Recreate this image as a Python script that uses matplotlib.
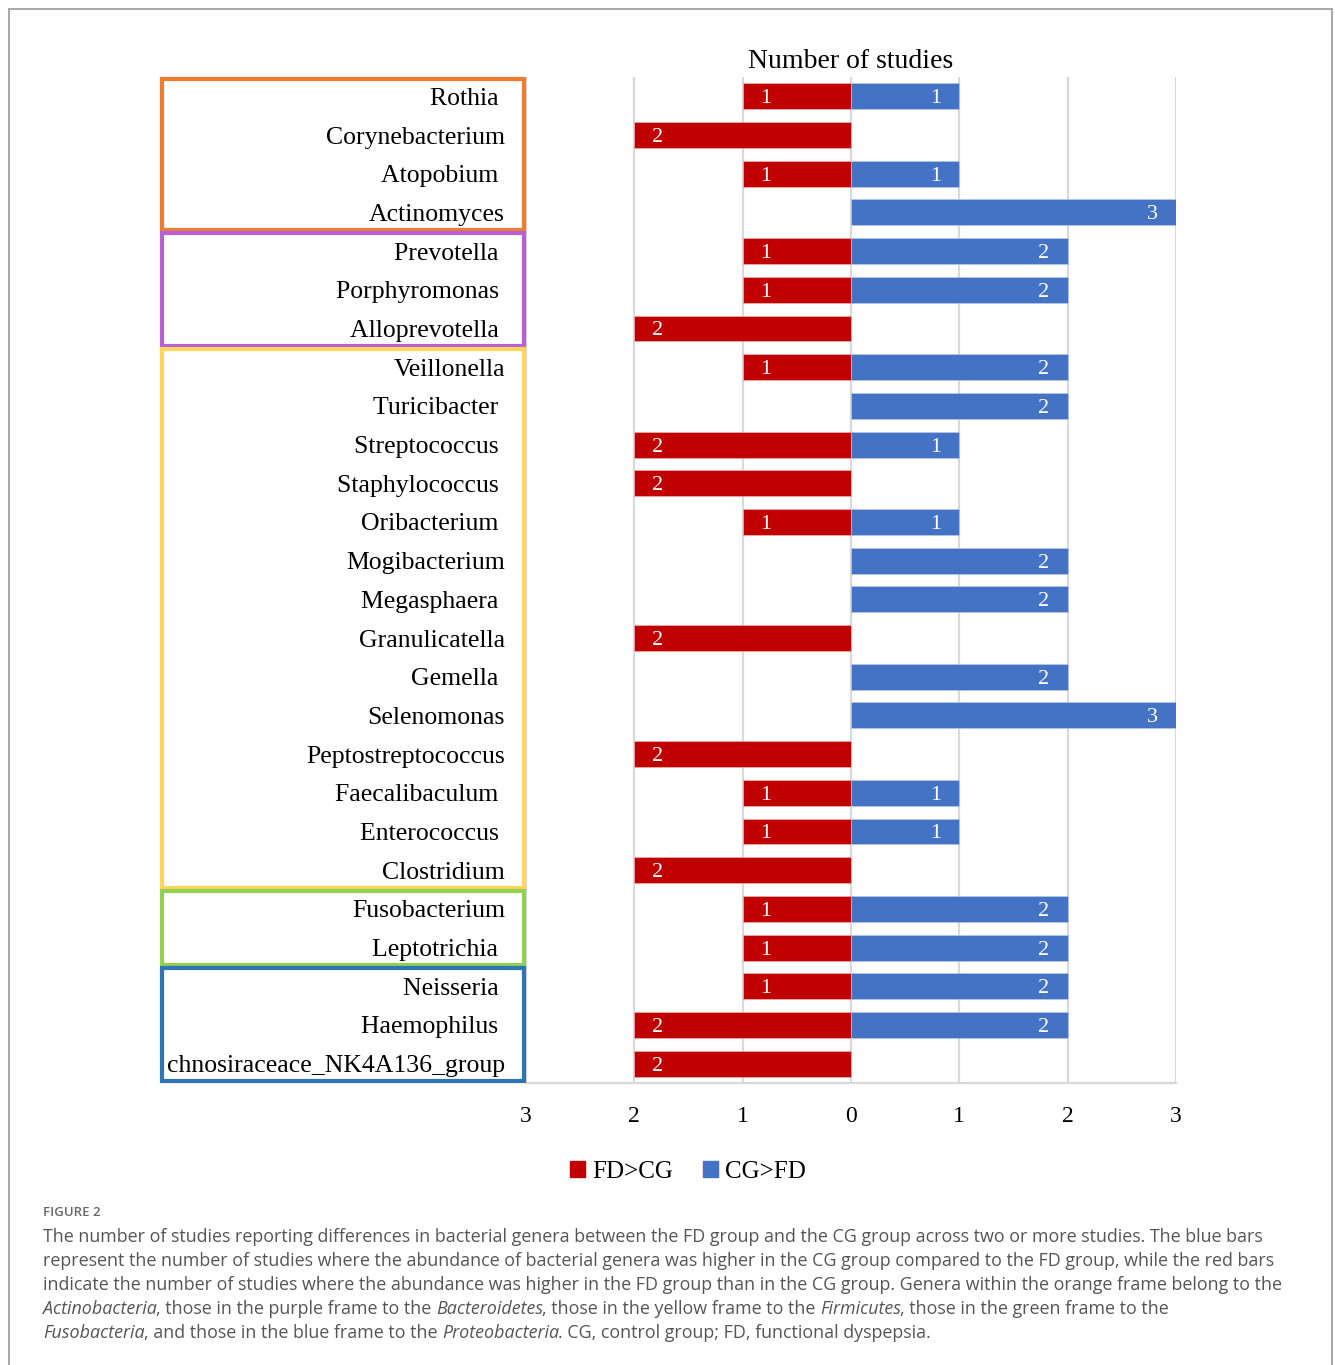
import matplotlib.pyplot as plt
from matplotlib.patches import Patch, Rectangle
from matplotlib.transforms import blended_transform_factory

# genera, top to bottom (trailing spaces as in the source labels)
genera = ["Rothia ", "Corynebacterium", "Atopobium ", "Actinomyces",
          "Prevotella ", "Porphyromonas ", "Alloprevotella ",
          "Veillonella", "Turicibacter ", "Streptococcus ", "Staphylococcus ",
          "Oribacterium ", "Mogibacterium", "Megasphaera ", "Granulicatella",
          "Gemella ", "Selenomonas", "Peptostreptococcus", "Faecalibaculum ",
          "Enterococcus ", "Clostridium", "Fusobacterium", "Leptotrichia ",
          "Neisseria ", "Haemophilus ", "chnosiraceace_NK4A136_group"]
fd_gt_cg = [1, 2, 1, 0, 1, 1, 2, 1, 0, 2, 2, 1, 0, 0, 2, 0, 0, 2, 1, 1, 2, 1, 1, 1, 2, 2]
cg_gt_fd = [1, 0, 1, 3, 2, 2, 0, 2, 2, 1, 0, 1, 2, 2, 0, 2, 3, 0, 1, 1, 0, 2, 2, 2, 2, 0]

phyla = ["Actinobacteria", "Bacteroidetes", "Firmicutes", "Fusobacteria", "Proteobacteria"]
phylum_sizes = [4, 3, 14, 2, 3]
frame_colors = ["#ED7D31", "#B95FD6", "#FFD55A", "#92D050", "#2E75B6"]

tick_values = [-3, -2, -1, 0, 1, 2, 3]

RED = "#C00000"
BLUE = "#4472C4"
SERIF = "Liberation Serif"

W, H = 1335, 1365
fig = plt.figure(figsize=(W / 100, H / 100), dpi=100)
ax = fig.add_axes([526 / W, 1 - 1083 / H, 650 / W, 1006 / H])

y = list(range(len(genera)))
neg = [-v for v in fd_gt_cg]
ax.barh(y, neg, height=0.67, color=RED, edgecolor="#f0b0b0", linewidth=0.5, zorder=3)
ax.barh(y, cg_gt_fd, height=0.67, color=BLUE, edgecolor="#b8c8e8", linewidth=0.5, zorder=3)

for i in y:
    if fd_gt_cg[i]:
        ax.text(-fd_gt_cg[i] + 0.21, i, str(fd_gt_cg[i]), color="white",
                ha="center", va="center_baseline", fontsize=16, family=SERIF, zorder=4)
    if cg_gt_fd[i]:
        ax.text(cg_gt_fd[i] - 0.22, i, str(cg_gt_fd[i]), color="white",
                ha="center", va="center_baseline", fontsize=16, family=SERIF, zorder=4)

ax.set_xlim(-3, 3)
ax.set_ylim(len(genera) - 0.5, -0.5)
ax.set_xticks(tick_values)
ax.set_xticklabels([str(abs(v)) for v in tick_values], family=SERIF, fontsize=17)
ax.tick_params(axis="x", length=0, pad=16.5)
ax.set_yticks([])
ax.grid(axis="x", color="#d9d9d9", linewidth=1.6, zorder=0)
for s in ["top", "left", "right"]:
    ax.spines[s].set_visible(False)
ax.spines["bottom"].set_color("#d9d9d9")
ax.spines["bottom"].set_linewidth(1.6)

# category labels inside the frames
trans = blended_transform_factory(ax.transAxes, ax.transData)
for i, name in enumerate(genera):
    ax.text(-21 / 650, i, name, transform=trans, ha="right", va="center_baseline",
            fontsize=18.5, family=SERIF, clip_on=False)

# phylum frames
start = 0
for n, c in zip(phylum_sizes, frame_colors):
    r = Rectangle((-0.56, start - 0.5 + 0.04), 0.557, n - 0.08, transform=trans,
                  fill=False, edgecolor=c, linewidth=3, clip_on=False, zorder=5)
    ax.add_patch(r)
    start += n

fig.text(851 / W, 1 - 59 / H, "Number of studies", ha="center", va="center_baseline",
         fontsize=20, family=SERIF)

handles = [Patch(color=RED, label="FD>CG"), Patch(color=BLUE, label="CG>FD")]
fig.legend(handles=handles, loc="center", bbox_to_anchor=(688 / W, 1 - 1172 / H),
           ncol=2, frameon=False, handlelength=0.6, handleheight=0.6,
           handletextpad=0.3, columnspacing=1.2, prop={"family": SERIF, "size": 18})

# outer frame
fig.add_artist(Rectangle((9 / W, -0.01), 1323 / W, 1 - 9 / H + 0.01,
                         transform=fig.transFigure, fill=False,
                         edgecolor="#aaaaaa", linewidth=1.5))

# caption
CAP = "Open Sans"
GRAY = "#555555"
CAP_SIZE = 12.85
fig.text(43 / W, 1 - 1213 / H, "FIGURE 2", ha="left", va="center",
         fontsize=9.5, family=CAP, color="#666666", weight="semibold")

caption = [
    [("The number of studies reporting differences in bacterial genera between the FD group and the CG group across two or more studies. The blue bars", "normal")],
    [("represent the number of studies where the abundance of bacterial genera was higher in the CG group compared to the FD group, while the red bars", "normal")],
    [("indicate the number of studies where the abundance was higher in the FD group than in the CG group. Genera within the orange frame belong to the", "normal")],
    [("Actinobacteria", "italic"), (", those in the purple frame to the ", "normal"),
     ("Bacteroidetes", "italic"), (", those in the yellow frame to the ", "normal"),
     ("Firmicutes", "italic"), (", those in the green frame to the", "normal")],
    [("Fusobacteria", "italic"), (", and those in the blue frame to the ", "normal"),
     ("Proteobacteria", "italic"), (". CG, control group; FD, functional dyspepsia.", "normal")],
]
for k, line in enumerate(caption):
    yb = 1 - (1242 + 24 * k) / H
    prev = None
    prev_style = "normal"
    for text, style in line:
        if prev is None:
            prev = fig.text(43 / W, yb, text, ha="left", va="baseline", fontsize=CAP_SIZE,
                            family=CAP, style=style, color=GRAY)
        else:
            dx = -0.7 if prev_style == "italic" else 0
            prev = ax.annotate(text, xy=(1, 0), xycoords=prev, xytext=(dx, 0),
                               textcoords="offset points", ha="left", va="bottom",
                               fontsize=CAP_SIZE, family=CAP, style=style, color=GRAY,
                               annotation_clip=False)
        prev_style = style

fig.savefig("out.png", dpi=100)
